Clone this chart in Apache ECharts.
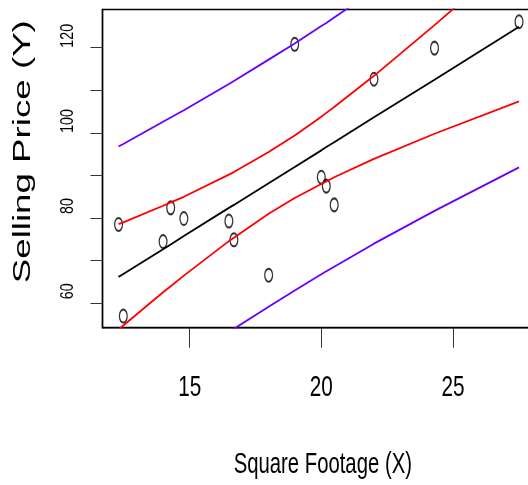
<!DOCTYPE html>
<html>
<head>
<meta charset="utf-8">
<script src="https://cdn.jsdelivr.net/npm/echarts@6/dist/echarts.min.js"></script>
<style>
  html, body { margin: 0; padding: 0; background: #fff; }
  #chart { width: 528px; height: 485px; }
</style>
</head>
<body>
<div id="chart"></div>
<script>
// Observed houses: size and selling price
const squareFootage = [12.30, 14.28, 14.78, 13.99, 16.49, 16.68, 18.00, 12.48, 18.99, 22.00, 24.30, 27.51, 20.00, 20.19, 20.49];
const sellingPrice  = [78.5, 82.4, 79.9, 74.5, 79.3, 74.9, 66.6, 57.0, 120.8, 112.6, 119.9, 126.1, 89.6, 87.5, 83.1];

// Footage values (sorted) where the fitted line and the bands are traced
const bandFootage = [12.30, 12.48, 13.99, 14.28, 14.78, 16.49, 16.68, 18.00, 18.99, 20.00, 20.19, 20.49, 22.00, 24.30, 27.51];
const fittedPrice = [66.2, 66.9, 72.7, 73.8, 75.8, 82.4, 83.1, 88.2, 92.0, 95.9, 96.7, 97.8, 103.7, 112.5, 124.9];
const confLower   = [53.8, 54.8, 62.6, 64.0, 66.5, 74.6, 75.4, 81.0, 84.7, 88.0, 88.6, 89.6, 93.9, 99.8, 107.4];
const confUpper   = [78.6, 79.0, 82.9, 83.7, 85.0, 90.2, 90.8, 95.5, 99.4, 103.8, 104.7, 106.1, 113.4, 125.3, 142.5];
const predLower   = [35.5, 36.3, 42.9, 44.1, 46.2, 53.3, 54.0, 59.2, 63.0, 66.8, 67.5, 68.6, 74.0, 81.7, 91.9];
const predUpper   = [96.8, 97.4, 102.6, 103.6, 105.3, 111.5, 112.2, 117.2, 121.0, 125.1, 125.8, 127.1, 133.4, 143.3, 158.0];

// Axis ticks and labels
const xTickValues  = [15, 20, 25];
const yTickValues  = [60, 70, 80, 90, 100, 110, 120];
const yLabelValues = [60, 80, 100, 120];

const zip = (xs, ys) => xs.map((x, i) => [x, ys[i]]);

const ELLIPSE = 'path://M1,0C1,0.552,0.552,1,0,1C-0.552,1,-1,0.552,-1,0C-1,-0.552,-0.552,-1,0,-1C0.552,-1,1,-0.552,1,0Z';
const FONT = '"Liberation Sans", Arial, sans-serif';

const curve = (name, ys, color) => ({
  type: 'line',
  name: name,
  data: zip(bandFootage, ys),
  symbol: 'none',
  showSymbol: false,
  clip: true,
  silent: true,
  lineStyle: { color: color, width: 1.8 }
});

const chart = echarts.init(document.getElementById('chart'), null, { renderer: 'canvas' });

chart.setOption({
  animation: false,
  backgroundColor: '#fff',
  grid: {
    left: 102.5, top: 9.5, width: 434.7, height: 318.2,
    show: true, borderColor: '#000', borderWidth: 1.4,
    containLabel: false, outerBoundsMode: 'none'
  },
  xAxis: {
    type: 'value', min: 11.69, max: 28.2,
    axisLine: { show: true, onZero: false, lineStyle: { color: '#000', width: 1.4 } },
    axisTick: { show: true, customValues: xTickValues, length: 20, lineStyle: { color: '#333', width: 1 } },
    axisLabel: { show: false },
    splitLine: { show: false }
  },
  yAxis: {
    type: 'value', min: 54.27, max: 128.97,
    axisLine: { show: true, onZero: false, lineStyle: { color: '#000', width: 1.4 } },
    axisTick: { show: true, customValues: yTickValues, length: 12, lineStyle: { color: '#333', width: 1 } },
    axisLabel: { show: false },
    splitLine: { show: false }
  },
  series: [
    {
      type: 'scatter',
      name: 'Houses',
      data: zip(squareFootage, sellingPrice),
      symbol: ELLIPSE,
      symbolSize: [7.8, 13],
      silent: true,
      itemStyle: { color: 'rgba(0,0,0,0)', borderColor: '#000', borderWidth: 1.6 }
    },
    curve('Fitted line', fittedPrice, '#000'),
    curve('Confidence lower', confLower, '#ff0000'),
    curve('Confidence upper', confUpper, '#ff0000'),
    curve('Prediction lower', predLower, '#6a00ff'),
    curve('Prediction upper', predUpper, '#6a00ff')
  ]
});

// Tick labels in a condensed face, placed at the axes' own tick positions
const xLabels = xTickValues.map(v => ({
  type: 'text', silent: true,
  x: chart.convertToPixel({ xAxisIndex: 0 }, v), y: 387.5, scaleX: 0.69,
  style: { text: String(v), font: '30px ' + FONT, fill: '#000', align: 'center', verticalAlign: 'middle' }
}));
const yLabels = yLabelValues.map(v => ({
  type: 'text', silent: true,
  x: 68.3, y: chart.convertToPixel({ yAxisIndex: 0 }, v) - 12,
  rotation: Math.PI / 2, scaleX: 0.77,
  style: { text: String(v), font: '18.6px ' + FONT, fill: '#000', align: 'center', verticalAlign: 'middle' }
}));

chart.setOption({
  graphic: xLabels.concat(yLabels, [
    {
      type: 'text', x: 322.8, y: 464.5, scaleX: 0.70, silent: true,
      style: { text: 'Square Footage (X)', font: '29px ' + FONT, fill: '#000', align: 'center', verticalAlign: 'middle' }
    },
    {
      type: 'text', x: 23.3, y: 151.7, rotation: Math.PI / 2, scaleX: 1.575, silent: true,
      style: { text: 'Selling Price (Y)', font: '23.3px ' + FONT, fill: '#000', align: 'center', verticalAlign: 'middle' }
    }
  ])
});
</script>
</body>
</html>
